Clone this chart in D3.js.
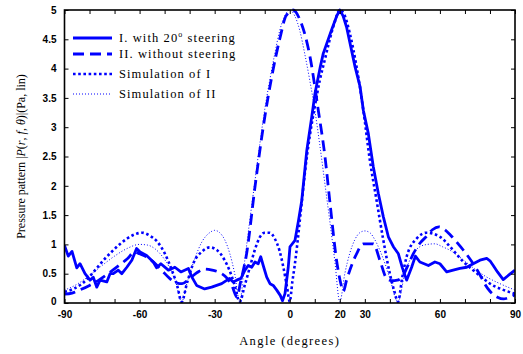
<!DOCTYPE html>
<html>
<head>
<meta charset="utf-8">
<script src="https://cdn.jsdelivr.net/npm/d3@7"></script>
<style>
  body { margin: 0; background: #fff; }
  .tick-lbl { font-family: "Liberation Sans", Arial, sans-serif; font-weight: bold; font-size: 10px; }
  .serif { font-family: "Liberation Serif", "Times New Roman", serif; }
</style>
</head>
<body>
<div id="chart"></div>
<script>
// angle tick labels shown on the x axis
var xLabels = [-90, -60, -30, 0, 20, 30, 60, 90];
var yTicks  = [0, 0.5, 1, 1.5, 2, 2.5, 3, 3.5, 4, 4.5, 5];

// I. with 20 deg steering (measured)
var measIAngle = [-90, -88.5, -87, -85.1, -83.8, -81.8, -79.8, -78.5, -77.1, -75.8, -73.1, -71.8, -70.5, -68.5, -67.1, -65.1, -63.1, -61.2, -59.8, -57.2, -54.5, -53.2, -51.5, -48.5, -45.9, -43.5, -40.5, -39.2, -37.2, -34, -31.2, -27.2, -24, -22.6, -21.2, -19.5, -17.9, -16.6, -15.2, -13.9, -12.6, -11.6, -10.6, -9.2, -7.9, -6.6, -5.2, -3.8, -2.9, -1.9, -0.6, 0.1, 2.1, 3.5, 4.8, 6.8, 8.8, 10.1, 12.2, 13.4, 14.8, 16.7, 18.7, 20, 21.3, 22.7, 24.1, 26.1, 28.1, 29.4, 31.4, 33.4, 35.4, 37.4, 39.4, 41.4, 43.4, 45, 46.7, 48.7, 50.2, 52, 55.4, 58, 60, 62.7, 65.3, 68, 70.7, 73.3, 76, 78.7, 80, 81.3, 83, 85.3, 87.3, 90];
var measIValue = [0.98, 0.8, 0.88, 0.6, 0.67, 0.5, 0.39, 0.44, 0.27, 0.39, 0.36, 0.5, 0.5, 0.56, 0.5, 0.61, 0.73, 0.93, 0.87, 0.81, 0.7, 0.6, 0.67, 0.56, 0.61, 0.53, 0.59, 0.45, 0.3, 0.24, 0.27, 0.33, 0.42, 0.36, 0.39, 0.42, 0.56, 0.64, 0.61, 0.7, 0.67, 0.79, 0.64, 0.44, 0.33, 0.3, 0.22, 0.13, 0.04, 0.16, 0.61, 0.96, 1.07, 1.41, 1.75, 2.6, 3.18, 3.58, 4.03, 4.26, 4.43, 4.66, 4.89, 5.0, 4.9, 4.71, 4.43, 4.03, 3.69, 3.29, 2.89, 2.32, 1.87, 1.47, 1.13, 0.96, 0.84, 0.6, 0.39, 0.61, 0.8, 0.7, 0.64, 0.7, 0.67, 0.53, 0.56, 0.59, 0.61, 0.67, 0.73, 0.76, 0.72, 0.64, 0.53, 0.4, 0.47, 0.56];

// II. without steering (measured)
var measIIAngle = [-90, -87, -84, -80, -76, -72, -68, -65, -62, -60, -57, -54, -51, -48, -45, -43, -40, -37, -34, -31, -28, -25, -23, -21, -19.8, -17.2, -13.9, -10.6, -7.2, -3.8, -1.5, 1.3, 4.1, 8.1, 11.4, 14.1, 16.1, 18.7, 20.3, 21.4, 22.7, 26.7, 29.4, 33.4, 36, 38.7, 40.7, 43, 45, 47, 49.5, 52, 54.5, 57, 59.6, 62, 64, 66.5, 69.4, 72.5, 76, 78, 80, 83, 85.4, 88, 90];
var measIIValue = [0.15, 0.17, 0.22, 0.3, 0.4, 0.52, 0.65, 0.75, 0.87, 0.84, 0.78, 0.68, 0.55, 0.42, 0.34, 0.33, 0.42, 0.52, 0.58, 0.56, 0.52, 0.42, 0.28, 0.1, 0.33, 0.85, 1.98, 3.0, 3.86, 4.54, 4.9, 5.0, 4.83, 4.2, 3.29, 2.49, 1.7, 0.73, 0.35, 0.2, 0.39, 0.84, 1.01, 1.01, 0.73, 0.42, 0.38, 0.39, 0.45, 0.62, 0.85, 1.02, 1.13, 1.25, 1.3, 1.25, 1.17, 1.05, 0.9, 0.72, 0.48, 0.32, 0.2, 0.1, 0.07, 0.1, 0.14];

// Simulation of I
var simIAngle = [-90, -86, -83, -80, -77, -74, -71, -68, -65, -62, -59, -56, -53, -50, -47, -45, -43.2, -41, -38.5, -35, -32, -29, -26, -24, -22, -20, -18, -16, -14, -12, -10, -8, -6, -4, -2.5, -1, 0, 1, 2, 3, 4, 5, 6, 7, 8, 10, 12, 14, 16, 18, 20, 22, 24, 26.7, 29.4, 32, 34.7, 37.4, 40, 42, 43.2, 45, 46.7, 50.7, 54.7, 60, 65.3, 69, 73.3, 77, 80, 85, 90];
var simIValue = [0.19, 0.25, 0.33, 0.45, 0.6, 0.75, 0.88, 1.0, 1.1, 1.17, 1.2, 1.15, 1.05, 0.85, 0.55, 0.3, 0.02, 0.35, 0.68, 0.88, 0.95, 0.9, 0.73, 0.55, 0.3, 0.02, 0.3, 0.6, 0.9, 1.12, 1.2, 1.2, 1.1, 0.88, 0.6, 0.25, 0.02, 0.35, 0.65, 1.0, 1.4, 1.8, 2.2, 2.55, 2.85, 3.35, 3.8, 4.15, 4.5, 4.8, 5.0, 4.9, 4.6, 4.03, 3.29, 2.44, 1.75, 1.07, 0.5, 0.17, 0.02, 0.45, 0.79, 1.1, 1.2, 1.13, 0.9, 0.72, 0.56, 0.43, 0.33, 0.23, 0.16];

// Simulation of II
var simIIAngle = [-90, -85, -80, -75, -70, -65, -60, -57, -54, -51, -48, -45.5, -43.2, -41, -38, -35, -32, -30, -28, -26, -24, -22, -20, -18, -16, -14, -12, -10, -8, -6, -4, -2, 0, 2, 4, 6, 8, 10, 12, 14, 16, 18, 20, 22, 24, 26, 28, 30, 32, 34, 36, 38, 40, 43.2, 46, 49, 52, 55, 58, 61, 64, 68, 73, 78, 84, 90];
var simIIValue = [0.22, 0.32, 0.47, 0.64, 0.8, 0.93, 1.0, 0.99, 0.93, 0.8, 0.6, 0.35, 0.02, 0.35, 0.75, 1.05, 1.2, 1.24, 1.2, 1.08, 0.85, 0.5, 0.02, 0.72, 1.4, 2.05, 2.7, 3.3, 3.8, 4.25, 4.65, 4.9, 5.0, 4.9, 4.65, 4.25, 3.8, 3.3, 2.7, 2.05, 1.4, 0.72, 0.02, 0.5, 0.85, 1.08, 1.2, 1.23, 1.2, 1.08, 0.9, 0.68, 0.42, 0.02, 0.5, 0.82, 0.96, 1.0, 1.01, 0.96, 0.9, 0.78, 0.61, 0.46, 0.33, 0.22];

var blue = "#0000ff";

var series = [
  { name: "I. with 20",            sup: "o", tail: " steering", a: measIAngle,  v: measIValue,  width: 2.8, dash: null,    curve: d3.curveLinear,      ly: 38 },
  { name: "II. without steering",   sup: "",  tail: "",          a: measIIAngle, v: measIIValue, width: 2.8, dash: "11,6",  curve: d3.curveMonotoneX,   ly: 54 },
  { name: "Simulation of I",        sup: "",  tail: "",          a: simIAngle,   v: simIValue,   width: 2.6, dash: "2.6,2.6", curve: d3.curveMonotoneX, ly: 74 },
  { name: "Simulation of II",       sup: "",  tail: "",          a: simIIAngle,  v: simIIValue,  width: 1,   dash: "1,2",   curve: d3.curveMonotoneX,   ly: 94 }
];

function draw_chart(wrapper)
{
  var W = 523, H = 354;
  var left = 64.5, right = 515, top = 10, bottom = 303;

  var svg = d3.select(wrapper).append("svg").attr("width", W).attr("height", H);

  var scalex = d3.scaleLinear().domain([-90, 90]).range([left, right]);
  var scaley = d3.scaleLinear().domain([0, 5]).range([bottom, top]);

  svg.append("clipPath").attr("id", "plot-clip")
    .append("rect")
    .attr("x", left).attr("y", top - 2)
    .attr("width", right - left).attr("height", bottom - top + 2);

  // curves
  var g = svg.append("g").attr("clip-path", "url(#plot-clip)");
  series.slice().reverse().forEach(function (s) {
    var pts = s.a.map(function (d, i) { return [d, s.v[i]]; });
    var line = d3.line()
      .x(function (d) { return scalex(d[0]); })
      .y(function (d) { return scaley(d[1]); })
      .curve(s.curve);
    g.append("path")
      .datum(pts)
      .attr("d", line)
      .attr("fill", "none")
      .attr("stroke", blue)
      .attr("stroke-width", s.width)
      .attr("stroke-linejoin", "round")
      .attr("stroke-dasharray", s.dash);
  });

  // axes, ticks inward on every side
  var xTicks = d3.range(-90, 91, 10);
  var x_axis = d3.axisBottom(scalex).tickValues(xTicks).tickSizeInner(-4).tickSizeOuter(0).tickPadding(6)
    .tickFormat(function (d) { return xLabels.indexOf(d) >= 0 ? d : ""; });
  var y_axis = d3.axisLeft(scaley).tickValues(yTicks).tickSizeInner(-4).tickSizeOuter(0).tickPadding(8)
    .tickFormat(function (d) { return d; });

  var gx = svg.append("g").attr("transform", "translate(0," + bottom + ")").call(x_axis);
  gx.selectAll("text").attr("class", "tick-lbl").attr("dy", "0.85em").attr("fill", "#000");
  var gy = svg.append("g").attr("transform", "translate(" + left + ",0)").call(y_axis);
  gy.selectAll("text").attr("class", "tick-lbl").attr("fill", "#000");
  gy.selectAll(".tick").filter(function (d) { return d === 0; }).select("text").attr("dy", "0.1em");

  svg.append("g").attr("transform", "translate(0," + top + ")")
    .call(d3.axisTop(scalex).tickValues(xTicks).tickSizeInner(-4).tickSizeOuter(0).tickFormat(""));
  svg.append("g").attr("transform", "translate(" + right + ",0)")
    .call(d3.axisRight(scaley).tickValues(yTicks).tickSizeInner(-4).tickSizeOuter(0).tickFormat(""));

  svg.selectAll(".domain").remove();
  svg.selectAll(".tick line").attr("stroke", "#000").attr("stroke-width", 1);

  svg.append("rect")
    .attr("x", left).attr("y", top)
    .attr("width", right - left).attr("height", bottom - top)
    .attr("fill", "none").attr("stroke", "#000").attr("stroke-width", 1.6);

  // axis titles
  svg.append("text")
    .attr("class", "serif")
    .attr("x", (left + right) / 2).attr("y", 345)
    .attr("text-anchor", "middle")
    .attr("font-size", 12.5)
    .attr("letter-spacing", 1.4)
    .text("Angle (degrees)");

  var yl = svg.append("text")
    .attr("class", "serif")
    .attr("transform", "translate(25," + (top + bottom) / 2 + ") rotate(-90)")
    .attr("text-anchor", "middle")
    .attr("font-size", 12);
  yl.append("tspan").text("Pressure pattern |");
  yl.append("tspan").attr("font-style", "italic").text("P");
  yl.append("tspan").text("(");
  yl.append("tspan").attr("font-style", "italic").text("r");
  yl.append("tspan").text(", ");
  yl.append("tspan").attr("font-style", "italic").text("f");
  yl.append("tspan").text(", ");
  yl.append("tspan").attr("font-style", "italic").text("θ");
  yl.append("tspan").text(")|(Pa, lin)");

  // legend
  var lg = svg.append("g");
  series.forEach(function (s) {
    lg.append("line")
      .attr("x1", 73).attr("x2", 112)
      .attr("y1", s.ly).attr("y2", s.ly)
      .attr("stroke", blue)
      .attr("stroke-width", s.width)
      .attr("stroke-dasharray", s.dash);
    var t = lg.append("text")
      .attr("class", "serif")
      .attr("x", 119).attr("y", s.ly + 4)
      .attr("font-size", 12.5)
      .attr("letter-spacing", 1.1)
      .attr("fill", "#000");
    t.append("tspan").text(s.name);
    if (s.sup) {
      t.append("tspan").attr("dy", -5).attr("font-size", 8).text(s.sup);
      t.append("tspan").attr("dy", 5).text(s.tail);
    }
  });
}

draw_chart("#chart");
</script>
</body>
</html>
